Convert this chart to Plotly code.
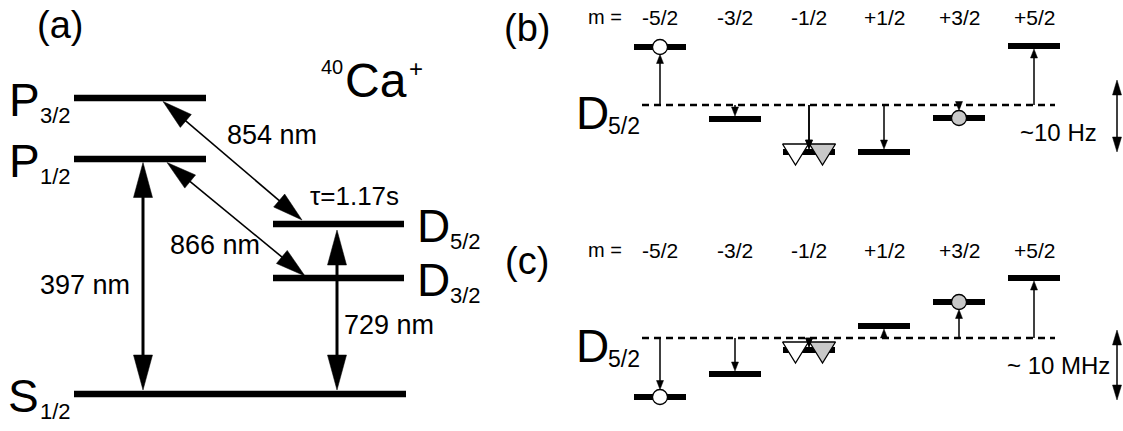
import plotly.graph_objects as go

W, H = 1123, 431
FONT = "Liberation Sans, Arial, Helvetica, sans-serif"

# ---------------- data ----------------
# panel (a): energy levels of 40Ca+ (diagram units, up = higher energy)
level_names = ["S", "P", "P", "D", "D"]
level_j = ["1/2", "1/2", "3/2", "3/2", "5/2"]
level_energy = [37, 272, 333, 153, 207]
# transitions: (label, lower level index, upper level index)
transition_labels = ["397 nm", "729 nm", "854 nm", "866 nm"]
transition_lower = [0, 0, 4, 3]
transition_upper = [1, 4, 2, 1]
lifetime_text = "τ=1.17s"
ion_mass, ion_symbol, ion_charge = "40", "Ca", "+"

# panels (b), (c): Zeeman sublevels of D5/2
m_labels = ["-5/2", "-3/2", "-1/2", "+1/2", "+3/2", "+5/2"]
shift_b = [58, -14, -47, -47, -13, 59]
shift_c = [-59, -36, -12, 12, 36, 60]
base_b = 326
base_c = 93
scale_label_b = "~10 Hz"
scale_label_c = "~ 10 MHz"
panel_letters = ["(a)", "(b)", "(c)"]

# ---------------- layout helpers ----------------
fig = go.Figure()


def line(xs, ys, width, color="black", dash=None):
    fig.add_trace(go.Scatter(x=xs, y=ys, mode="lines",
                             line=dict(color=color, width=width, dash=dash),
                             hoverinfo="skip", showlegend=False))


def poly(xs, ys, fill, edge="black", ew=1.0):
    fig.add_trace(go.Scatter(x=list(xs) + [xs[0]], y=list(ys) + [ys[0]], mode="lines",
                             fill="toself", fillcolor=fill,
                             line=dict(color=edge, width=ew),
                             hoverinfo="skip", showlegend=False))


def arrow(x0, y0, x1, y1, lw, hl, hw, both=False):
    dx, dy = x1 - x0, y1 - y0
    L = (dx * dx + dy * dy) ** 0.5
    ux, uy = dx / L, dy / L
    px, py = -uy, ux
    sx, sy = (x0 + ux * hl * 0.7, y0 + uy * hl * 0.7) if both else (x0, y0)
    ex, ey = x1 - ux * hl * 0.7, y1 - uy * hl * 0.7
    if (ex - sx) * ux + (ey - sy) * uy > 0:
        line([sx, ex], [sy, ey], lw)
    heads = [(x1, y1, ux, uy)]
    if both:
        heads.append((x0, y0, -ux, -uy))
    for tx, ty, vx, vy in heads:
        bx, by = tx - vx * hl, ty - vy * hl
        poly([tx, bx + px * hw / 2, bx - px * hw / 2],
             [ty, by + py * hw / 2, by - py * hw / 2], "black", ew=0.5)


def text(x, y, s, size, xanchor="center", yanchor="middle"):
    fig.add_annotation(x=x, y=y, xref="x", yref="y", text=s, showarrow=False,
                       xanchor=xanchor, yanchor=yanchor,
                       font=dict(family=FONT, size=size, color="black"))


# ---------------- panel (a) ----------------
level_x = [(74, 406), (74, 206), (74, 206), (273, 404), (273, 404)]
label_x = [6, 7, 7, 415, 415]
sub_x = [38, 38, 38, 448, 448]
for i, E in enumerate(level_energy):
    x0, x1 = level_x[i]
    line([x0, x1], [E, E], 6.5)
    text(label_x[i], E - 1.5, level_names[i], 46, xanchor="left")
    text(sub_x[i], E - 17, level_j[i], 22, xanchor="left")

# transitions
t_geom = {
    "397 nm": dict(xl=143, xu=143, lab=(85, 146), big=True),
    "729 nm": dict(xl=337, xu=337, lab=(389, 106), big=True),
    "854 nm": dict(xl=302, xu=163, lab=(272, 296), big=False),
    "866 nm": dict(xl=305, xu=167, lab=(215, 186), big=False),
}
for k, lab in enumerate(transition_labels):
    g = t_geom[lab]
    El = level_energy[transition_lower[k]]
    Eu = level_energy[transition_upper[k]]
    if g["big"]:
        gap_u = 3.5 if transition_upper[k] != 4 else 6
        arrow(g["xl"], El + 4, g["xu"], Eu - gap_u, 3, 35, 19, both=True)
    else:
        gap_l = 4 if transition_lower[k] == 4 else 2
        arrow(g["xl"], El + gap_l, g["xu"], Eu - 3.5, 1.6, 30, 17, both=True)
    text(g["lab"][0], g["lab"][1], lab, 27)

text(354, level_energy[4] + 28, lifetime_text, 26)
text(319, 364, ion_mass, 20, xanchor="left")
text(343, 350.5, ion_symbol, 48, xanchor="left")
text(407, 363, ion_charge, 24, xanchor="left")
text(60, 406, panel_letters[0], 38)

# ---------------- panels (b), (c) ----------------
col_x = [660, 735, 809, 884, 959, 1034]
bar_half = 26


def zeeman_panel(base, shifts, letter, scale_label, scale_span):
    line([642, 1055], [base, base], 2.6, dash="7px,5px")
    text(527, base + 77, letter, 38)
    text(574, base - 7.5, "D", 46, xanchor="left")
    text(606, base - 21, "5/2", 23, xanchor="left")
    text(605, base + 88, "m =", 20)
    for i, s in enumerate(shifts):
        text(col_x[i], base + 88, m_labels[i], 21)
    for i, s in enumerate(shifts):
        E = base + s
        cx = col_x[i]
        line([cx - bar_half, cx + bar_half], [E, E], 6)
        has_circle = i in (0, 4)
        gap = 7.5 if has_circle else 3
        tip = E - gap if s > 0 else E + gap
        arrow(cx, base, cx, tip, 1.5, 9, 7)
    # markers
    E0 = base + shifts[0]
    fig.add_trace(go.Scatter(x=[col_x[0]], y=[E0], mode="markers",
                             marker=dict(size=15, color="white", line=dict(color="black", width=1.3)),
                             hoverinfo="skip", showlegend=False))
    E4 = base + shifts[4]
    fig.add_trace(go.Scatter(x=[col_x[4]], y=[E4], mode="markers",
                             marker=dict(size=15, color="#c8c8c8", line=dict(color="black", width=1.3)),
                             hoverinfo="skip", showlegend=False))
    E2 = base + shifts[2]
    for off, fillc in ((-13.5, "white"), (13.5, "#c8c8c8")):
        cx = col_x[2] + off
        top = E2 + 8
        poly([cx - 13, cx + 13, cx], [top, top, top - 21], fillc, ew=1.3)
    # re-draw -1/2 arrowhead on top
    tipE = E2 + 3 if shifts[2] < 0 else E2 - 3
    arrow(col_x[2], base, col_x[2], tipE, 1.5, 9, 7)
    text(1058, base - 27.5, scale_label, 24)
    arrow(1117, scale_span[0], 1117, scale_span[1], 1.5, 15, 9, both=True)


zeeman_panel(base_b, shift_b, panel_letters[1], scale_label_b, (279, 351))
zeeman_panel(base_c, shift_c, panel_letters[2], scale_label_c, (31, 101))

fig.update_layout(
    width=W, height=H, autosize=False,
    margin=dict(l=0, r=0, t=0, b=0),
    paper_bgcolor="white", plot_bgcolor="white",
    xaxis=dict(range=[0, W], visible=False, fixedrange=True),
    yaxis=dict(range=[0, H], visible=False, fixedrange=True),
    showlegend=False,
)
fig.write_html("out.html")
